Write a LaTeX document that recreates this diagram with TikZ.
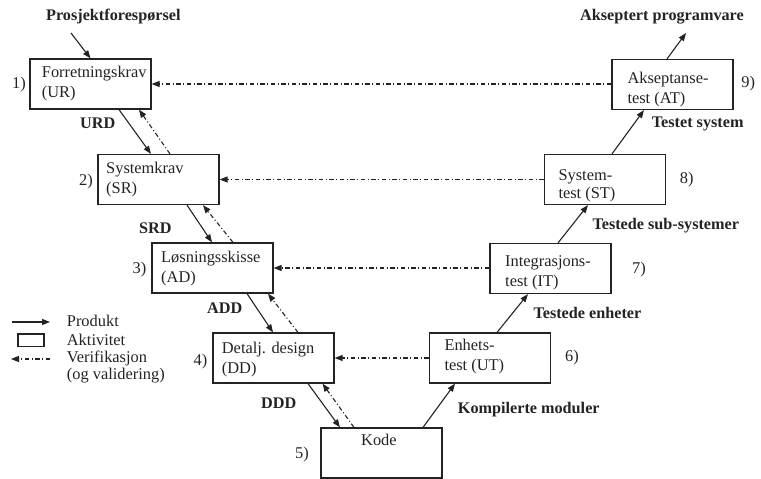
\documentclass[tikz,border=0pt]{standalone}
\usepackage{fontspec}
\setmainfont{Liberation Serif}
\usetikzlibrary{arrows.meta}
\definecolor{ink}{RGB}{35,35,35}
\tikzset{
  box/.style={draw=ink, line width=1.2pt, minimum width=121pt, minimum height=50pt, inner sep=0pt},
  txt/.style={anchor=base west, inner sep=0pt, text=ink, font=\fontsize{16.4}{20}\selectfont},
  bl/.style={anchor=base west, inner sep=0pt, text=ink, font=\fontsize{16.2}{20}\selectfont\bfseries},
  num/.style={anchor=center, inner sep=0pt, text=ink, font=\fontsize{16.4}{20}\selectfont},
  prod/.style={draw=ink, line width=1.1pt, -{Triangle[length=8pt,width=6pt]}},
  verif/.style={draw=ink, line width=1.1pt, dash pattern=on 4.5pt off 2.5pt on 1pt off 2.5pt, -{Triangle[length=8pt,width=6pt]}},
}
\begin{document}
\begin{tikzpicture}[x=1pt, y=-1pt]
\useasboundingbox (0,0) rectangle (761,479);

% boxes
\node[box] (UR) at (90.5,84) {};
\node[box] (SR) at (158.5,179.5) {};
\node[box] (AD) at (212.5,268) {};
\node[box] (DD) at (273.5,358) {};
\node[box] (KO) at (381.5,453) {};
\node[box] (UT) at (490,358) {};
\node[box] (IT) at (550.5,268.5) {};
\node[box] (ST) at (605,179.5) {};
\node[box] (AT) at (672.5,84.5) {};

% box texts
\node[txt] (t1a) at (41.7,77.3) {Forretningskrav};
\node[txt] (t1b) at (41.7,97) {(UR)};
\node[txt] (t2a) at (106,173.3) {Systemkrav};
\node[txt] (t2b) at (106,193.3) {(SR)};
\node[txt] (t3a) at (161,262.3) {Løsningsskisse};
\node[txt] (t3b) at (161,282.5) {(AD)};
\node[txt] (t4a) at (221.7,353.3) {Detalj. design};
\node[txt] (t4b) at (221.7,373.3) {(DD)};
\node[txt] (t5) at (361,445) {Kode};
\node[txt] (t6a) at (444.3,350) {Enhets-};
\node[txt] (t6b) at (444.3,370) {test (UT)};
\node[txt] (t7a) at (505,266.7) {Integrasjons-};
\node[txt] (t7b) at (505,286.7) {test (IT)};
\node[txt] (t8a) at (558.3,180) {System-};
\node[txt] (t8b) at (558.3,198.3) {test (ST)};
\node[txt] (t9a) at (627.3,83.3) {Akseptanse-};
\node[txt] (t9b) at (627.3,103.3) {test (AT)};

% numbers
\node[num] (n1) at (19,85) {1)};
\node[num] (n2) at (86,182) {2)};
\node[num] (n3) at (139.5,270) {3)};
\node[num] (n4) at (200.5,361.7) {4)};
\node[num] (n5) at (302,455) {5)};
\node[num] (n6) at (572,358) {6)};
\node[num] (n7) at (639,270) {7)};
\node[num] (n8) at (686.7,180) {8)};
\node[num] (n9) at (748.3,84) {9)};

% bold labels
\node[bl] (in) at (46,20) {Prosjektforespørsel};
\node[bl] (out) at (580,20.5) {Akseptert programvare};
\node[bl] (urd) at (80,128) {URD};
\node[bl] (srd) at (139,233) {SRD};
\node[bl] (add) at (207,313) {ADD};
\node[bl] (ddd) at (261,408) {DDD};
\node[bl] (km) at (457.7,413.3) {Kompilerte moduler};
\node[bl] (te) at (533.3,318.3) {Testede enheter};
\node[bl] (tss) at (592.3,229.3) {Testede sub-systemer};
\node[bl] (ts) at (651.7,127.3) {Testet system};

% input / output
\coordinate (inS) at (71,33);
\coordinate (outE) at (686,33);
\draw[prod] (inS) -- (UR.north);
\draw[prod] ([xshift=-5.5pt]AT.north) -- (outE);

% product arrows (down)
\draw[prod] ([xshift=28.5pt]UR.south) -- ([xshift=-7.5pt]SR.north);
\draw[prod] ([xshift=28.5pt]SR.south) -- ([xshift=-0.5pt]AD.north);
\draw[prod] ([xshift=34.5pt]AD.south) -- ([xshift=-0.5pt]DD.north);
\draw[prod] ([xshift=34.5pt]DD.south) -- ([xshift=-41.5pt]KO.north);
% product arrows (up)
\draw[prod] ([xshift=41.5pt]KO.north) -- ([xshift=-35pt]UT.south);
\draw[prod] ([xshift=7pt]UT.north) -- ([xshift=-22.5pt]IT.south);
\draw[prod] ([xshift=7.5pt]IT.north) -- ([xshift=-17pt]ST.south);
\draw[prod] ([xshift=7pt]ST.north) -- ([xshift=-28.5pt]AT.south);

% verification (back up)
\draw[verif] ([xshift=11.5pt]SR.north) -- ([xshift=48.5pt]UR.south);
\draw[verif] ([xshift=20.5pt]AD.north) -- ([xshift=44.5pt]SR.south);
\draw[verif] ([xshift=24.5pt]DD.north) -- ([xshift=55.5pt]AD.south);
\draw[verif] ([xshift=-27.5pt]KO.north) -- ([xshift=49pt]DD.south);

% verification (horizontal)
\draw[verif] (AT.west |- UR.east) -- (UR.east);
\draw[verif] (ST.west) -- (SR.east);
\draw[verif] (IT.west |- AD.east) -- (AD.east);
\draw[verif] (UT.west) -- (DD.east);

% legend
\coordinate (lpA) at (12,322);
\coordinate (lpB) at (50,322);
\draw[prod] (lpA) -- (lpB);
\node[draw=ink, line width=1.1pt, minimum width=26pt, minimum height=12.7pt, inner sep=0pt] (lbox) at (31,340.3) {};
\coordinate (lvA) at (50,359);
\coordinate (lvB) at (11,359);
\draw[verif] (lvA) -- (lvB);
\node[txt] (lg1) at (66.7,326.7) {Produkt};
\node[txt] (lg2) at (66.7,345.7) {Aktivitet};
\node[txt] (lg3) at (66.7,362.5) {Verifikasjon};
\node[txt] (lg4) at (66.7,379.5) {(og validering)};
\end{tikzpicture}
\end{document}
